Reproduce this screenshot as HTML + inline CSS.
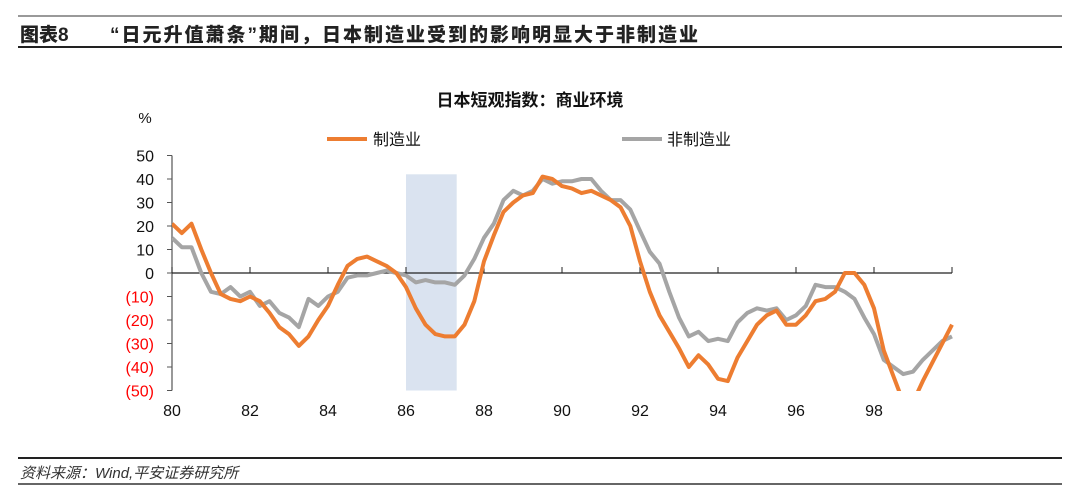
<!DOCTYPE html>
<html><head><meta charset="utf-8">
<style>
html,body{margin:0;padding:0;background:#fff;}
body{width:1080px;height:499px;position:relative;overflow:hidden;font-family:"Liberation Sans","Noto Sans CJK SC",sans-serif;}
.abs{position:absolute;}
</style></head>
<body>
<div class="abs" style="left:18px;top:15px;width:1044px;height:2px;background:#999;"></div>
<div class="abs" style="left:20px;top:20px;font-size:19px;font-weight:900;color:#222;">图表8</div>
<div class="abs" style="left:110px;top:20px;font-size:19px;letter-spacing:2px;font-weight:900;color:#222;">“日元升值萧条”期间，日本制造业受到的影响明显大于非制造业</div>
<div class="abs" style="left:18px;top:46px;width:1044px;height:2px;background:#222;"></div>

<svg class="abs" style="left:0;top:0" width="1080" height="499">
<text x="530" y="106" text-anchor="middle" font-size="17" font-weight="bold" fill="#111" font-family="Liberation Sans, Noto Sans CJK SC, sans-serif">日本短观指数：商业环境</text>
<text x="145" y="123" text-anchor="middle" font-size="15" fill="#111">%</text>
<g>
<line x1="327" y1="139" x2="367" y2="139" stroke="#ED7D31" stroke-width="4"/>
<text x="373" y="145" font-size="16" fill="#111" font-family="Liberation Sans, Noto Sans CJK SC, sans-serif">制造业</text></g>
<g>
<line x1="622" y1="139" x2="662" y2="139" stroke="#A5A5A5" stroke-width="4"/>
<text x="667" y="145" font-size="16" fill="#111" font-family="Liberation Sans, Noto Sans CJK SC, sans-serif">非制造业</text></g>
<defs><clipPath id="pc"><rect x="172" y="150" width="785" height="241"/></clipPath></defs>
<g id="plot"></g>
</svg>

<div class="abs" style="left:18px;top:457px;width:1044px;height:2px;background:#222;"></div>
<div class="abs" style="left:20px;top:462px;font-size:15px;font-style:italic;color:#333;">资料来源：Wind,平安证券研究所</div>
<div class="abs" style="left:18px;top:483px;width:1044px;height:2px;background:#666;"></div>

<script>
const yTicks = [50,40,30,20,10,0,-10,-20,-30,-40,-50];
const xTickLabels = ["80","82","84","86","88","90","92","94","96","98"];
const startYear = 1980;
const manufacturing = [21,17,21,10,0,-9,-11,-12,-10,-12,-17,-23,-26,-31,-27,-20,-14,-5,3,6,7,5,3,0,-6,-15,-22,-26,-27,-27,-22,-12,5,16,26,30,33,34,41,40,37,36,34,35,33,31,28,20,5,-8,-18,-25,-32,-40,-35,-39,-45,-46,-36,-29,-22,-18,-16,-22,-22,-18,-12,-11,-8,0,0,-5,-15,-33,-44,-55,-55,-46,-38,-30,-22];
const nonManufacturing = [15,11,11,0,-8,-9,-6,-10,-8,-14,-12,-17,-19,-23,-11,-14,-10,-8,-2,-1,-1,0,1,0,-1,-4,-3,-4,-4,-5,-1,6,15,21,31,35,33,35,40,38,39,39,40,40,35,31,31,27,18,9,4,-8,-19,-27,-25,-29,-28,-29,-21,-17,-15,-16,-15,-20,-18,-14,-5,-6,-6,-8,-11,-19,-26,-37,-40,-43,-42,-37,-33,-29,-27];
const shade = [1986.0, 1987.3];

const NS="http://www.w3.org/2000/svg";
const g=document.getElementById('plot');
const X0=172, X1=952, Y0=273, YPU=(390-155)/100;
const xs=yr=>X0+(yr-startYear)*(X1-X0)/20;
const ys=v=>Y0-v*YPU;
function mk(t,a){const e=document.createElementNS(NS,t);for(const k in a)e.setAttribute(k,a[k]);g.appendChild(e);return e;}

const sh=mk('rect',{x:xs(shade[0]),y:ys(42),width:xs(shade[1])-xs(shade[0]),height:ys(-50)-ys(42),fill:'#DAE3F0'});



const ya=mk('line',{x1:X0,y1:ys(50),x2:X0,y2:ys(-50),stroke:'#555','stroke-width':1.2});


yTicks.forEach(v=>{
  mk('line',{x1:X0-5,y1:ys(v),x2:X0,y2:ys(v),stroke:'#555','stroke-width':1});
  const t=mk('text',{x:X0-18,y:ys(v)+6,'text-anchor':'end','font-size':16,fill:v<0?'#FF0000':'#111'});
  t.textContent=v<0?'('+(-v)+')':String(v);
  
  
});
const xa=mk('line',{x1:X0,y1:Y0,x2:X1,y2:Y0,stroke:'#222','stroke-width':1.2});


xTickLabels.forEach((l,i)=>{
  const x=xs(startYear+i*2);
  mk('line',{x1:x,y1:Y0-6,x2:x,y2:Y0,stroke:'#222','stroke-width':1});
  const t=mk('text',{x:x,y:416,'text-anchor':'middle','font-size':16,fill:'#111'});
  t.textContent=l;
  
  
});
mk('line',{x1:X1,y1:Y0-6,x2:X1,y2:Y0,stroke:'#222','stroke-width':1});

function line(arr,color,name){
  const d=arr.map((v,i)=>(i?'L':'M')+xs(startYear+i/4).toFixed(1)+','+ys(v).toFixed(1)).join('');
  const p=mk('path',{d:d,fill:'none',stroke:color,'stroke-width':4,'stroke-linejoin':'round','clip-path':'url(#pc)'});
  
  
}
line(nonManufacturing,'#A5A5A5','non-manufacturing-line');
line(manufacturing,'#ED7D31','manufacturing-line');
</script>
</body></html>
